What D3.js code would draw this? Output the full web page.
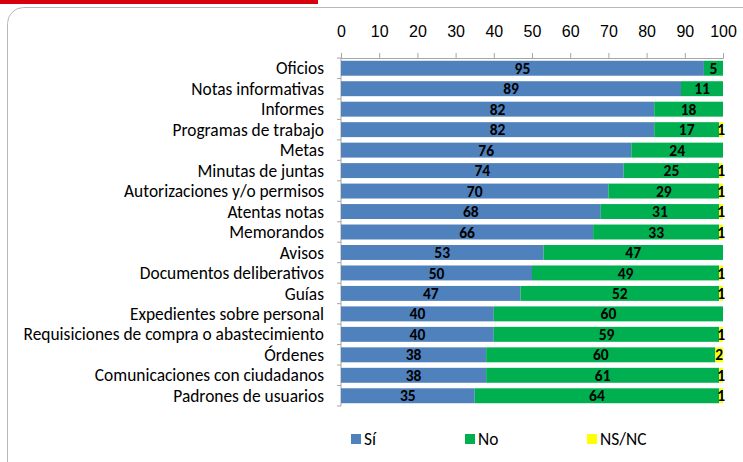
<!DOCTYPE html>
<html>
<head>
<meta charset="utf-8">
<script src="https://cdn.jsdelivr.net/npm/d3@7"></script>
<style>
  body { margin: 0; background: #fff; }
  svg { font-family: Carlito, Calibri, Lato, sans-serif; }
</style>
</head>
<body>
<div id="chart"></div>
<script>
var categories = ['Oficios', 'Notas informativas', 'Informes', 'Programas de trabajo', 'Metas',
  'Minutas de juntas', 'Autorizaciones y/o permisos', 'Atentas notas', 'Memorandos', 'Avisos',
  'Documentos deliberativos', 'Guías', 'Expedientes sobre personal',
  'Requisiciones de compra o abastecimiento', 'Órdenes', 'Comunicaciones con ciudadanos',
  'Padrones de usuarios']
var si   = [95, 89, 82, 82, 76, 74, 70, 68, 66, 53, 50, 47, 40, 40, 38, 38, 35]
var no   = [5, 11, 18, 17, 24, 25, 29, 31, 33, 47, 49, 52, 60, 59, 60, 61, 64]
var nsnc = [0, 0, 0, 1, 0, 1, 1, 1, 1, 0, 1, 1, 0, 1, 2, 1, 1]
var seriesNames = ['Sí', 'No', 'NS/NC']
var ticks = [0, 10, 20, 30, 40, 50, 60, 70, 80, 90, 100]

var colors = ['#4f81bd', '#00b050', '#ffff00']

var width = 743, height = 462

var svg = d3.select('#chart').append('svg')
  .attr('width', width)
  .attr('height', height)

// red strip on top and the rounded frame
svg.append('rect').attr('x', 0).attr('y', 0).attr('width', 318).attr('height', 4).attr('fill', '#d9000d')
svg.append('rect')
  .attr('x', 7.5).attr('y', 7.5)
  .attr('width', 780).attr('height', 500)
  .attr('rx', 16)
  .attr('fill', 'none')
  .attr('stroke', '#b8b8b8')

var data = categories.map(function(c, i) {
  return { cat: c, vals: [si[i], no[i], nsnc[i]] }
})

var x = d3.scaleLinear().domain([0, 100]).range([341, 723])
var y = d3.scaleBand().domain(categories).range([58, 406]).paddingInner(0.27).paddingOuter(0.135)

// top axis
var xAxis = svg.append('g')
  .attr('transform', 'translate(0,58)')
  .call(d3.axisTop(x).tickValues(ticks).tickSize(5).tickPadding(16))
xAxis.select('.domain').attr('stroke', '#a6a6a6')
xAxis.selectAll('.tick line').attr('stroke', '#a6a6a6')
xAxis.selectAll('.tick text').attr('font-size', 16).attr('fill', '#000')

// left axis with ticks between categories
var yAxis = svg.append('g').attr('transform', 'translate(341,0)')
yAxis.append('line')
  .attr('y1', 58).attr('y2', 406)
  .attr('stroke', '#a6a6a6')
yAxis.selectAll('.ctick')
  .data(d3.range(categories.length + 1))
  .enter().append('line')
  .attr('x1', -4).attr('x2', 0)
  .attr('y1', function(i) { return i == categories.length ? 406 : y(categories[i]) - y.step() * y.paddingInner() / 2 })
  .attr('y2', function(i) { return i == categories.length ? 406 : y(categories[i]) - y.step() * y.paddingInner() / 2 })
  .attr('stroke', '#a6a6a6')

svg.append('g').selectAll('text')
  .data(categories)
  .enter().append('text')
  .attr('x', 324)
  .attr('y', function(d) { return y(d) + y.bandwidth() / 2 })
  .attr('dy', '0.35em')
  .attr('text-anchor', 'end')
  .attr('font-size', 17.4)
  .text(function(d) { return d })

// bars
var rows = svg.append('g').selectAll('.row')
  .data(data)
  .enter().append('g')
  .attr('class', 'row')

rows.each(function(d) {
  var g = d3.select(this)
  var start = 0
  d.vals.forEach(function(v, k) {
    if (v > 0) {
      g.append('rect')
        .attr('x', x(start))
        .attr('y', y(d.cat))
        .attr('width', x(start + v) - x(start))
        .attr('height', y.bandwidth())
        .attr('fill', colors[k])
      g.append('text')
        .attr('x', (x(start) + x(start + v)) / 2)
        .attr('y', y(d.cat) + y.bandwidth() / 2)
        .attr('dy', '0.36em')
        .attr('text-anchor', 'middle')
        .attr('font-size', 15.5)
        .attr('font-weight', 'bold')
        .text(v)
    }
    start += v
  })
})

// legend
var legendX = [351, 465, 587]
var legend = svg.append('g').selectAll('.leg')
  .data(seriesNames)
  .enter().append('g')
  .attr('transform', function(d, i) { return 'translate(' + legendX[i] + ',434)' })
legend.append('rect').attr('width', 10).attr('height', 10).attr('fill', function(d, i) { return colors[i] })
legend.append('text')
  .attr('x', 13).attr('y', 5).attr('dy', '0.35em')
  .attr('font-size', 17.4)
  .text(function(d) { return d })
</script>
</body>
</html>
